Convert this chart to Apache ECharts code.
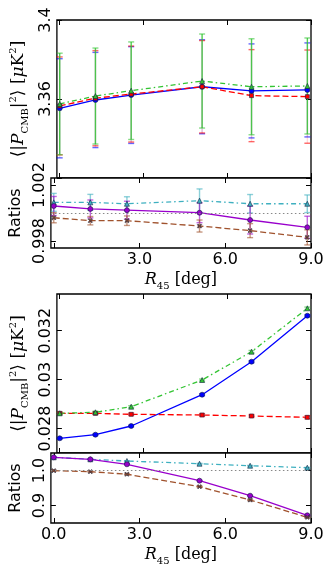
<!DOCTYPE html>
<html>
<head>
<meta charset="utf-8">
<script src="https://cdn.jsdelivr.net/npm/echarts@6/dist/echarts.min.js"></script>
<style>
  html, body { margin: 0; padding: 0; background: #fff; }
  #chart { width: 329px; height: 569px; }
</style>
</head>
<body>
<div id="chart"></div>
<script>
// ── data ────────────────────────────────────────────────────────────────────
const xDeg = [0, 1.28, 2.56, 5.1, 6.87, 8.87];
const xTicks = [0, 3, 6, 9];

// upper figure: <|P_CMB|^2>
const upBlue = [3.3553, 3.3595, 3.3620, 3.3662, 3.3641, 3.3646];
const upBlueErr = [0.0251, 0.0241, 0.0245, 0.0238, 0.0238, 0.0238];
const upRed = [3.3565, 3.3604, 3.3625, 3.3662, 3.3617, 3.3612];
const upRedErr = [0.0248, 0.0241, 0.0243, 0.0234, 0.0233, 0.0236];
const upGreen = [3.3575, 3.3615, 3.3642, 3.3691, 3.3662, 3.3666];
const upGreenErr = [0.0257, 0.0243, 0.0247, 0.0238, 0.0243, 0.0243];
const upYTicks = [3.32, 3.36, 3.4];
const upYLabels = [3.36, 3.4];

// upper figure: ratios
const upRatioCyan = [1.00076, 1.00076, 1.00066, 1.00088, 1.00066, 1.00066];
const upRatioCyanErr = [0.00064, 0.00057, 0.0005, 0.00084, 0.00066, 0.00063];
const upRatioPurple = [1.0005, 1.00029, 1.0002, 1.00002, 0.9995, 0.99898];
const upRatioPurpleErr = [0.00068, 0.00064, 0.00064, 0.00071, 0.001, 0.00079];
const upRatioBrown = [0.99966, 0.99945, 0.99945, 0.99907, 0.99874, 0.99826];
const upRatioBrownErr = [0.00036, 0.0003, 0.00034, 0.00043, 0.0005, 0.00054];
const upRatioTicks = [0.998, 1.002];

// lower figure: <|P_CMB|^2>
const loBlue = [0.027601, 0.027748, 0.028104, 0.029383, 0.030732, 0.032613];
const loBlueErr = [0.00003, 0.00003, 0.00003, 0.00004, 0.00004, 0.00004];
const loRed = [0.028623, 0.028623, 0.028582, 0.028553, 0.028512, 0.028459];
const loRedErr = [0.00005, 0.00005, 0.00005, 0.00006, 0.00006, 0.00006];
const loGreen = [0.028623, 0.028664, 0.028893, 0.029984, 0.031141, 0.032915];
const loGreenErr = [0.00004, 0.00004, 0.00004, 0.00004, 0.00005, 0.00005];
const loYTicks = [0.028, 0.03, 0.032];

// lower figure: ratios
const loRatioCyan = [1.0377, 1.032, 1.0271, 1.0194, 1.0137, 1.008];
const loRatioPurple = [1.0377, 1.032, 1.0177, 0.9709, 0.928, 0.872];
const loRatioBrown = [0.9994, 0.9966, 0.9894, 0.9537, 0.9157, 0.8663];
const loRatioErr = [0.001, 0.001, 0.001, 0.001, 0.001, 0.001];
const loRatioTicks = [0.9, 1.0];

// ── styling ─────────────────────────────────────────────────────────────────
const C = {
  blue: '#0000ff', red: '#ff0000', green: '#33c433',
  purple: '#9900cc', cyan: '#3fb0c0', brown: '#a0522d', grey: '#888888'
};
const SANS = 'DejaVu Sans';
const SERIF = 'DejaVu Serif';
const X_MIN = -0.1, X_MAX = 9.0;

const grids = [
  { left: 49, top: 20, width: 262, height: 158 },
  { left: 49, top: 178, width: 262, height: 70 },
  { left: 49, top: 294, width: 262, height: 159 },
  { left: 49, top: 453, width: 262, height: 70 }
].map(g => Object.assign(g, { show: true, borderColor: '#000', borderWidth: 1.3, backgroundColor: '#fff' }));

const yRanges = [[3.32, 3.4], [0.9975, 1.0025], [0.027, 0.0335], [0.85, 1.05]];
const yTickSets = [upYTicks, upRatioTicks, loYTicks, loRatioTicks];
const yLabelSets = [upYLabels, upRatioTicks, loYTicks, loRatioTicks];
const yFormat = [
  v => String(+v.toFixed(2)),
  v => v.toFixed(3),
  v => String(+v.toFixed(3)),
  v => v.toFixed(1)
];

const richTitle = {
  n: { fontFamily: SERIF, fontSize: 17, lineHeight: 22, color: '#000' },
  i: { fontFamily: SERIF, fontStyle: 'italic', fontSize: 17, lineHeight: 22, color: '#000' },
  s: { fontFamily: SERIF, fontSize: 10, lineHeight: 10, verticalAlign: 'bottom', color: '#000' },
  p: { fontFamily: SERIF, fontSize: 10, lineHeight: 10, verticalAlign: 'top', color: '#000' }
};
const xRich = {
  n: { fontFamily: SERIF, fontSize: 16, lineHeight: 22, color: '#000' },
  i: { fontFamily: SERIF, fontStyle: 'italic', fontSize: 16, lineHeight: 22, color: '#000' },
  s: { fontFamily: SERIF, fontSize: 10, lineHeight: 10, verticalAlign: 'bottom', color: '#000' }
};
const powerTitle = '{n|⟨|}{i|P}{s|CMB}{n||}{p|2}{n|⟩ [}{i|μ}{n|K}{p|2}{n|]}';
const xTitle = '{i|R}{s|45}{n| [deg]}';

const tickStyle = (values) => ({
  show: true, inside: true, length: 5, customValues: values,
  lineStyle: { color: '#000', width: 1 }
});

// bottom x axes (0..3), then top mirror axes (4..7)
const xAxes = [];
const xLabelSets = [[], [3, 6, 9], [], [0, 3, 6, 9]];
for (let gi = 0; gi < 4; gi++) {
  const withLabels = xLabelSets[gi].length > 0;
  xAxes.push({
    type: 'value', gridIndex: gi, position: 'bottom', min: X_MIN, max: X_MAX,
    axisLine: { show: false, onZero: false },
    splitLine: { show: false },
    axisTick: tickStyle(xTicks),
    axisLabel: {
      show: withLabels, customValues: xLabelSets[gi], margin: 4,
      fontFamily: SANS, fontSize: 16, color: '#000',
      formatter: v => v.toFixed(1)
    },
    name: withLabels ? xTitle : '', nameLocation: 'middle', nameGap: 21,
    nameTextStyle: { rich: xRich }
  });
}
for (let gi = 0; gi < 4; gi++) {
  xAxes.push({
    type: 'value', gridIndex: gi, position: 'top', min: X_MIN, max: X_MAX,
    axisLine: { show: false, onZero: false }, splitLine: { show: false },
    axisTick: tickStyle(xTicks), axisLabel: { show: false }
  });
}

// left y axes (0..3), then right mirror axes (4..7)
const yAxes = [];
for (let gi = 0; gi < 4; gi++) {
  const isRatio = gi % 2 === 1;
  yAxes.push({
    type: 'value', gridIndex: gi, position: 'left',
    min: yRanges[gi][0], max: yRanges[gi][1],
    axisLine: { show: false, onZero: false }, splitLine: { show: false },
    axisTick: tickStyle(yTickSets[gi]),
    axisLabel: {
      customValues: yLabelSets[gi], rotate: 90, margin: 3,
      fontFamily: SANS, fontSize: 16, color: '#000',
      formatter: yFormat[gi]
    },
    name: isRatio ? 'Ratios' : powerTitle,
    nameLocation: 'middle', nameRotate: 90,
    nameGap: isRatio ? 18 : 24,
    nameTextStyle: isRatio
      ? { fontFamily: SANS, fontSize: 16, color: '#000' }
      : { rich: richTitle }
  });
}
for (let gi = 0; gi < 4; gi++) {
  yAxes.push({
    type: 'value', gridIndex: gi, position: 'right',
    min: yRanges[gi][0], max: yRanges[gi][1],
    axisLine: { show: false, onZero: false }, splitLine: { show: false },
    axisTick: tickStyle(yTickSets[gi]), axisLabel: { show: false }
  });
}

// ── series builders ─────────────────────────────────────────────────────────
function lineSeries(gi, vals, color, dash, symbol, extra) {
  return Object.assign({
    type: 'line', xAxisIndex: gi, yAxisIndex: gi,
    data: xDeg.map((x, i) => [x, vals[i]]),
    symbol: symbol, symbolSize: 5, showSymbol: true,
    itemStyle: { color: color, borderColor: '#102040', borderWidth: 0.6 },
    lineStyle: { color: color, width: 1.3, type: dash },
    z: 3, animation: false, silent: true
  }, extra || {});
}

// vertical bar + two caps; stemAlpha lets the top-most series show its colour
function errSeries(gi, vals, errs, color, capHalf, stemAlpha, zz) {
  return {
    type: 'custom', xAxisIndex: gi, yAxisIndex: gi,
    data: xDeg.map((x, i) => [x, vals[i] - errs[i], vals[i] + errs[i]]),
    renderItem: (params, api) => {
      const lo = api.coord([api.value(0), api.value(1)]);
      const hi = api.coord([api.value(0), api.value(2)]);
      const cap = { stroke: color, lineWidth: 1.4, opacity: 0.6 };
      const stem = { stroke: color, lineWidth: 1.4, opacity: stemAlpha };
      return {
        type: 'group',
        children: [
          { type: 'line', shape: { x1: lo[0], y1: lo[1], x2: hi[0], y2: hi[1] }, style: stem },
          { type: 'line', shape: { x1: lo[0] - capHalf, y1: lo[1], x2: lo[0] + capHalf, y2: lo[1] }, style: cap },
          { type: 'line', shape: { x1: hi[0] - capHalf, y1: hi[1], x2: hi[0] + capHalf, y2: hi[1] }, style: cap }
        ]
      };
    },
    z: zz || 2, animation: false, silent: true
  };
}

function unityLine(gi) {
  return {
    type: 'line', xAxisIndex: gi, yAxisIndex: gi, data: [], silent: true,
    markLine: {
      symbol: 'none', silent: true, animation: false, label: { show: false },
      lineStyle: { color: C.grey, type: [1.5, 2.5], width: 1.2 },
      data: [{ yAxis: 1 }]
    }
  };
}

const DASH = [6, 3];
const DASHDOT = [5, 3, 1.5, 3];
const plus = 'path://M4,0H6V4H10V6H6V10H4V6H0V4H4Z';

const series = [
  // upper power
  errSeries(0, upBlue, upBlueErr, C.blue, 3, 0.15, 1),
  errSeries(0, upRed, upRedErr, C.red, 3, 0.15, 1),
  errSeries(0, upGreen, upGreenErr, C.green, 3, 0.85, 2),
  lineSeries(0, upBlue, C.blue, 'solid', 'circle'),
  lineSeries(0, upRed, C.red, DASH, 'rect', { symbolSize: 4 }),
  lineSeries(0, upGreen, C.green, DASHDOT, 'triangle', { symbolSize: 5 }),
  // upper ratios
  unityLine(1),
  errSeries(1, upRatioCyan, upRatioCyanErr, C.cyan, 3, 0.6),
  errSeries(1, upRatioPurple, upRatioPurpleErr, C.purple, 3, 0.6),
  errSeries(1, upRatioBrown, upRatioBrownErr, C.brown, 3, 0.6),
  lineSeries(1, upRatioCyan, C.cyan, DASHDOT, 'triangle', { symbolSize: 5 }),
  lineSeries(1, upRatioPurple, C.purple, 'solid', 'circle'),
  lineSeries(1, upRatioBrown, C.brown, DASH, plus, { symbolSize: 5, symbolRotate: 45 }),
  // lower power
  errSeries(2, loBlue, loBlueErr, C.blue, 3, 0.6),
  errSeries(2, loRed, loRedErr, C.red, 3, 0.6),
  errSeries(2, loGreen, loGreenErr, C.green, 3, 0.6),
  lineSeries(2, loBlue, C.blue, 'solid', 'circle'),
  lineSeries(2, loRed, C.red, DASH, 'rect', { symbolSize: 4 }),
  lineSeries(2, loGreen, C.green, DASHDOT, 'triangle', { symbolSize: 5 }),
  // lower ratios
  unityLine(3),
  errSeries(3, loRatioCyan, loRatioErr, C.cyan, 3, 0.6),
  errSeries(3, loRatioPurple, loRatioErr, C.purple, 3, 0.6),
  errSeries(3, loRatioBrown, loRatioErr, C.brown, 3, 0.6),
  lineSeries(3, loRatioCyan, C.cyan, DASHDOT, 'triangle', { symbolSize: 5 }),
  lineSeries(3, loRatioPurple, C.purple, 'solid', 'circle'),
  lineSeries(3, loRatioBrown, C.brown, DASH, plus, { symbolSize: 5, symbolRotate: 45 })
];

const chart = echarts.init(document.getElementById('chart'), null, { renderer: 'canvas' });
chart.setOption({
  backgroundColor: '#fff',
  animation: false,
  grid: grids,
  xAxis: xAxes,
  yAxis: yAxes,
  series: series
});
</script>
</body>
</html>
